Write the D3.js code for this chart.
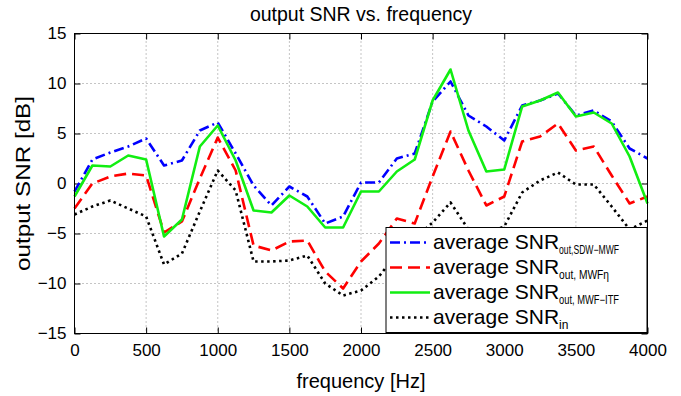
<!DOCTYPE html>
<html>
<head>
<meta charset="utf-8">
<script src="https://cdn.jsdelivr.net/npm/d3@7"></script>
<style>
  body { margin: 0; background: #fff; }
  text { font-family: "Liberation Sans", Arial, Helvetica, sans-serif; }
</style>
</head>
<body>
<svg id="chart"></svg>
<script>
// frequency bins [Hz]
const frequencies = [0, 125, 250, 375, 500, 625, 750, 875, 1000, 1125, 1250, 1375, 1500, 1625, 1750, 1875,
    2000, 2125, 2250, 2375, 2500, 2625, 2750, 2875, 3000, 3125, 3250, 3375, 3500, 3625, 3750, 3875, 4000];

// output SNR [dB]
const snrSdwMwf = [-0.8, 2.4, 3.1, 3.7, 4.5, 1.8, 2.3, 5.3, 6.1, 3.0, -0.2, -2.2, -0.3, -1.3, -4.0, -3.3,
    0.1, 0.1, 2.5, 3.0, 8.2, 10.2, 6.8, 5.7, 4.3, 7.8, 8.3, 9.0, 6.8, 7.3, 6.2, 3.5, 2.5];
const snrMwfEta = [-2.5, 0.0, 0.7, 1.0, 0.8, -4.9, -3.8, 0.5, 4.6, 1.3, -6.2, -6.7, -5.8, -5.7, -8.8, -10.5,
    -7.8, -6.0, -3.5, -4.0, 0.7, 5.2, 1.3, -2.2, -1.3, 4.2, 4.7, 6.0, 3.3, 3.7, 0.8, -2.0, -1.3];
const snrMwfItf = [-1.3, 1.8, 1.7, 2.8, 2.4, -5.3, -3.6, 3.7, 5.8, 2.3, -2.7, -2.9, -1.2, -2.3, -4.4, -4.4,
    -0.8, -0.8, 1.2, 2.4, 8.3, 11.4, 5.3, 1.2, 1.4, 7.7, 8.3, 9.1, 6.7, 7.1, 6.0, 2.7, -2.0];
const snrIn = [-3.1, -2.3, -1.7, -2.5, -3.3, -8.1, -7.0, -2.8, 1.3, -0.7, -7.8, -7.8, -7.7, -7.2, -10.0, -11.2,
    -10.7, -9.3, -7.0, -5.5, -3.9, -1.9, -4.6, -5.0, -4.3, -0.9, 0.3, 1.1, -0.1, -0.1, -2.3, -4.6, -3.7];

const xTicks = [0, 500, 1000, 1500, 2000, 2500, 3000, 3500, 4000];
const yTicks = [-15, -10, -5, 0, 5, 10, 15];

const series = [
    {values: snrSdwMwf, color: "#0000ff", dash: "10,4,2,4", sub: "out,SDW\u2212MWF", subLen: 60},
    {values: snrMwfEta, color: "#ff0000", dash: "12,6", sub: "out, MWF\u03b7", subLen: 50},
    {values: snrMwfItf, color: "#11ee11", dash: null, sub: "out, MWF\u2212ITF", subLen: 60},
    {values: snrIn, color: "#000000", dash: "2.5,3.5", sub: "in", subLen: null}
];

const width = 681, height = 396;
const margin = {top: 33.5, right: 33.5, bottom: 62.5, left: 74.5};
const plotW = width - margin.left - margin.right;
const plotH = height - margin.top - margin.bottom;

const svg = d3.select("#chart")
    .attr("width", width)
    .attr("height", height);

const g = svg.append("g")
    .attr("transform", "translate(" + margin.left + "," + margin.top + ")");

const x = d3.scaleLinear().domain([0, 4000]).range([0, plotW]);
const y = d3.scaleLinear().domain([-15, 15]).range([plotH, 0]);

// dotted grid
g.append("g").selectAll("line")
    .data(xTicks.slice(1, -1))
    .join("line")
    .attr("x1", d => x(d)).attr("x2", d => x(d))
    .attr("y1", 0).attr("y2", plotH)
    .attr("stroke", "#8a8a8a").attr("stroke-width", 1).attr("stroke-dasharray", "1,3");

g.append("g").selectAll("line")
    .data(yTicks.slice(1, -1))
    .join("line")
    .attr("x1", 0).attr("x2", plotW)
    .attr("y1", d => y(d)).attr("y2", d => y(d))
    .attr("stroke", "#8a8a8a").attr("stroke-width", 1).attr("stroke-dasharray", "1,3");

// axes, ticks pointing inwards
const tickLen = 6;
g.append("g")
    .attr("transform", "translate(0," + plotH + ")")
    .call(d3.axisBottom(x).tickValues(xTicks).tickFormat(d3.format("d"))
        .tickSizeInner(-tickLen).tickSizeOuter(0).tickPadding(10));
g.append("g")
    .call(d3.axisLeft(y).tickValues(yTicks).tickSizeInner(-tickLen).tickSizeOuter(0).tickPadding(8));
g.append("g")
    .call(d3.axisTop(x).tickValues(xTicks).tickSizeInner(-tickLen).tickSizeOuter(0).tickFormat(""));
g.append("g")
    .attr("transform", "translate(" + plotW + ",0)")
    .call(d3.axisRight(y).tickValues(yTicks).tickSizeInner(-tickLen).tickSizeOuter(0).tickFormat(""));

g.selectAll(".domain").remove();
g.selectAll(".tick line").attr("stroke", "#000");
g.selectAll(".tick text")
    .attr("fill", "#000")
    .style("font-size", "17px")
    .style("font-family", "'Liberation Sans', Arial, sans-serif");

// lines
const line = d3.line()
    .x((d, i) => x(frequencies[i]))
    .y(d => y(d));

series.forEach(s => {
    g.append("path")
        .datum(s.values)
        .attr("fill", "none")
        .attr("stroke", s.color)
        .attr("stroke-width", 2.6)
        .attr("stroke-linejoin", "round")
        .attr("stroke-dasharray", s.dash)
        .attr("d", line);
});

// box
g.append("rect")
    .attr("width", plotW).attr("height", plotH)
    .attr("fill", "none").attr("stroke", "#000").attr("stroke-width", 1);

// legend
const legend = g.append("g")
    .attr("transform", "translate(" + (386 - margin.left) + "," + (227.5 - margin.top) + ")");
legend.append("rect")
    .attr("width", 261).attr("height", 105)
    .attr("fill", "#fff").attr("stroke", "#000").attr("stroke-width", 1);

series.forEach((s, i) => {
    const cy = 15 + i * 25;
    legend.append("line")
        .attr("x1", 4).attr("x2", 44)
        .attr("y1", cy).attr("y2", cy)
        .attr("stroke", s.color)
        .attr("stroke-width", 2.6)
        .attr("stroke-dasharray", s.dash);
    const t = legend.append("text")
        .attr("x", 47).attr("y", cy + 6)
        .style("font-size", "21px")
        .attr("fill", "#000");
    t.append("tspan").text("average SNR");
    const sub = t.append("tspan")
        .attr("dy", 5)
        .style("font-size", "12px")
        .text(s.sub);
    if (s.subLen) sub.attr("textLength", s.subLen).attr("lengthAdjust", "spacingAndGlyphs");
});

// titles
svg.append("text")
    .attr("x", margin.left + plotW / 2).attr("y", 21)
    .attr("text-anchor", "middle")
    .style("font-size", "19.5px")
    .text("output SNR vs. frequency");

svg.append("text")
    .attr("x", margin.left + plotW / 2).attr("y", 388)
    .attr("text-anchor", "middle")
    .style("font-size", "20px")
    .text("frequency [Hz]");

svg.append("text")
    .attr("transform", "translate(30," + (margin.top + plotH / 2) + ") rotate(-90)")
    .attr("text-anchor", "middle")
    .style("font-size", "20px")
    .attr("textLength", 175)
    .attr("lengthAdjust", "spacingAndGlyphs")
    .text("output SNR [dB]");
</script>
</body>
</html>
